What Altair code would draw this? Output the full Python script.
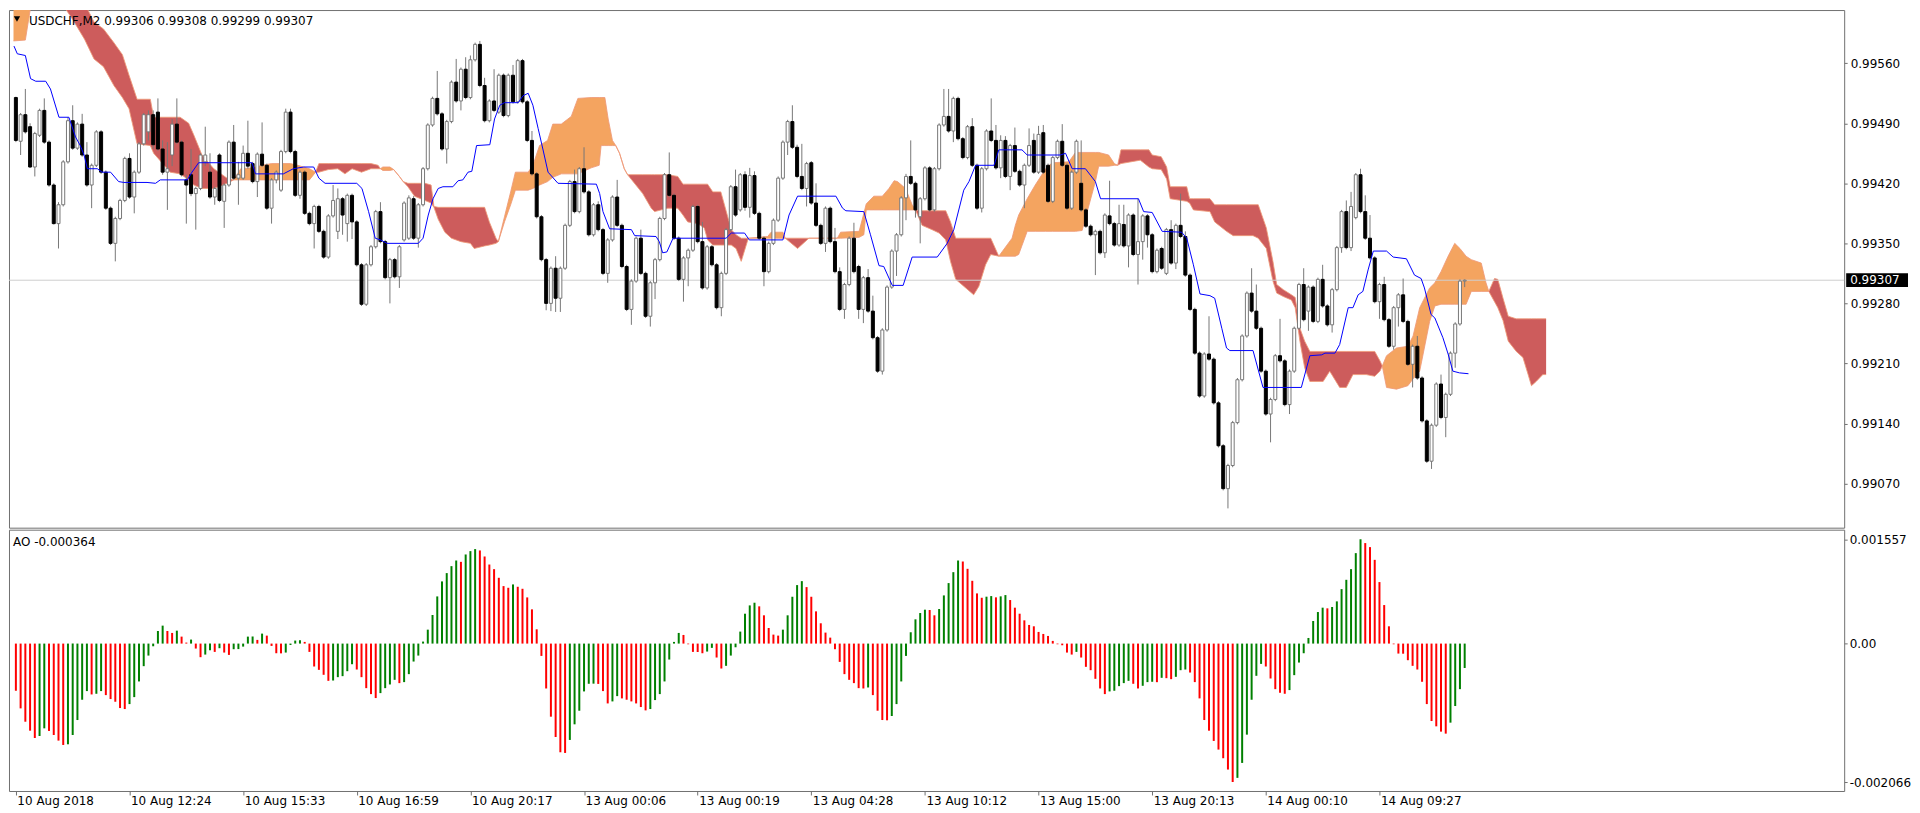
import json
import altair as alt
import pandas as pd

# ---------------------------------------------------------------- settings
BASE = 0.99          # price values below are in 1e-5 above this base
PIP = 1e-5
AO_UNIT = 1e-6       # AO values below are in 1e-6
W, H_PRICE, H_AO = 1840, 519, 262
FONT = "DejaVu Sans"
FRAME = "#707070"
ORANGE = "#F4A460"
RED = "#CD5C5C"

SYMBOL_TEXT = "USDCHF,M2  0.99306 0.99308 0.99299 0.99307"
AO_TEXT = "AO -0.000364"
LAST_PRICE = 0.99307

X_TICKS = [0, 24, 48, 72, 96, 120, 144, 168, 192, 216, 240, 264, 288]
X_LABELS = ["10 Aug 2018", "10 Aug 12:24", "10 Aug 15:33", "10 Aug 16:59", "10 Aug 20:17",
            "13 Aug 00:06", "13 Aug 00:19", "13 Aug 04:28", "13 Aug 10:12", "13 Aug 15:00",
            "13 Aug 20:13", "14 Aug 00:10", "14 Aug 09:27"]
PRICE_TICKS = [0.99070, 0.99140, 0.99210, 0.99280, 0.99350, 0.99420, 0.99490, 0.99560]
AO_TICKS = [0.001557, 0.0, -0.002066]
AO_TICK_LABELS = ["0.001557", "0.00", "-0.002066"]

# ---------------------------------------------------------------- candles (1e-5 above 0.99)
OPEN = [
    520, 469, 500, 486, 439, 476, 505, 468, 418, 373,
    395, 445, 493, 461, 489, 453, 418, 441, 480, 433,
    391, 350, 379, 400, 449, 404, 433, 466, 480, 500,
    503, 460, 433, 453, 489, 468, 424, 430, 408, 414,
    445, 433, 404, 453, 399, 418, 468, 426, 426, 455,
    443, 422, 454, 441, 391, 424, 412, 457, 503, 457,
    406, 433, 385, 373, 393, 364, 334, 382, 364, 402,
    373, 406, 375, 325, 279, 325, 346, 387, 352, 310,
    331, 311, 354, 356, 402, 356, 395, 437, 488, 519,
    501, 460, 492, 538, 516, 553, 520, 564, 582, 534,
    493, 516, 503, 546, 499, 546, 515, 563, 515, 470,
    431, 381, 331, 280, 321, 286, 321, 371, 422, 387,
    437, 410, 360, 395, 366, 315, 354, 404, 371, 323,
    273, 306, 356, 315, 265, 304, 331, 379, 430, 406,
    356, 308, 333, 342, 393, 352, 298, 346, 325, 275,
    315, 366, 416, 389, 430, 392, 429, 385, 356, 317,
    350, 377, 426, 468, 492, 462, 428, 414, 444, 397,
    371, 350, 391, 352, 317, 273, 302, 356, 323, 273,
    310, 271, 240, 201, 249, 299, 341, 360, 403, 428,
    420, 381, 402, 438, 389, 437, 488, 498, 481, 519,
    472, 450, 486, 441, 391, 437, 481, 470, 438, 470,
    428, 464, 434, 418, 441, 470, 433, 479, 441, 399,
    450, 469, 441, 391, 433, 420, 389, 370, 360, 364,
    339, 382, 373, 348, 372, 347, 383, 337, 352, 382,
    360, 317, 344, 315, 366, 327, 371, 358, 313, 273,
    222, 172, 221, 215, 164, 114, 64, 91, 141, 191,
    242, 292, 271, 251, 201, 151, 168, 219, 213, 162,
    201, 251, 302, 271, 299, 259, 308, 277, 255, 296,
    345, 387, 345, 380, 430, 387, 356, 333, 282, 302,
    261, 230, 275, 290, 259, 209, 230, 193, 143, 96,
    138, 186, 147, 174, 222, 256, 306,
]
HIGH = [
    521, 502, 530, 490, 480, 507, 519, 470, 420, 398,
    447, 497, 511, 491, 501, 468, 443, 482, 482, 435,
    393, 381, 402, 451, 455, 435, 468, 502, 505, 505,
    519, 470, 468, 495, 519, 470, 430, 460, 416, 455,
    486, 455, 416, 455, 420, 470, 488, 445, 464, 493,
    445, 456, 491, 443, 426, 435, 459, 507, 507, 459,
    435, 435, 387, 395, 395, 366, 384, 418, 414, 404,
    408, 408, 377, 327, 327, 348, 389, 398, 354, 333,
    333, 348, 399, 406, 405, 397, 439, 490, 521, 551,
    503, 494, 540, 565, 555, 567, 569, 584, 586, 543,
    518, 553, 548, 548, 548, 558, 565, 565, 517, 481,
    433, 383, 333, 323, 335, 323, 373, 424, 436, 439,
    462, 412, 397, 399, 368, 356, 406, 424, 373, 325,
    308, 358, 366, 317, 306, 333, 381, 432, 456, 408,
    358, 335, 344, 395, 395, 375, 348, 348, 327, 317,
    368, 418, 436, 432, 434, 438, 434, 387, 358, 352,
    379, 428, 470, 494, 511, 465, 466, 445, 446, 420,
    373, 393, 393, 368, 322, 304, 358, 374, 325, 312,
    320, 289, 242, 251, 301, 343, 362, 405, 431, 470,
    422, 404, 440, 440, 439, 490, 530, 530, 521, 521,
    474, 488, 496, 443, 439, 483, 519, 488, 476, 475,
    466, 485, 436, 443, 484, 478, 487, 488, 443, 452,
    471, 489, 443, 435, 471, 470, 391, 372, 366, 366,
    385, 423, 375, 395, 395, 385, 385, 402, 384, 384,
    362, 344, 346, 368, 377, 373, 408, 364, 315, 275,
    224, 223, 265, 217, 166, 116, 93, 143, 193, 244,
    294, 321, 302, 253, 203, 170, 221, 262, 215, 203,
    253, 304, 321, 301, 301, 310, 325, 279, 298, 347,
    389, 400, 410, 432, 437, 406, 383, 335, 304, 311,
    263, 277, 292, 309, 261, 232, 242, 195, 145, 140,
    188, 197, 176, 224, 258, 308, 308,
]
LOW = [
    468, 453, 478, 438, 428, 474, 466, 416, 372, 344,
    393, 443, 459, 459, 451, 416, 391, 439, 431, 389,
    348, 329, 377, 398, 402, 385, 431, 464, 470, 460,
    458, 430, 389, 440, 466, 428, 373, 405, 366, 412,
    440, 402, 395, 398, 368, 416, 424, 395, 424, 437,
    420, 404, 439, 389, 373, 420, 410, 455, 455, 404,
    402, 383, 371, 344, 362, 332, 332, 380, 355, 360,
    352, 355, 323, 277, 277, 323, 344, 350, 308, 280,
    309, 298, 352, 354, 354, 345, 393, 435, 486, 499,
    458, 443, 490, 514, 505, 518, 518, 562, 532, 491,
    491, 503, 501, 497, 497, 513, 513, 513, 468, 429,
    379, 329, 272, 271, 270, 270, 319, 369, 385, 385,
    408, 358, 358, 364, 313, 304, 352, 369, 321, 271,
    255, 304, 313, 263, 253, 285, 329, 377, 404, 354,
    306, 282, 300, 340, 350, 296, 296, 323, 273, 265,
    313, 364, 381, 387, 388, 380, 383, 354, 300, 315,
    348, 375, 424, 453, 460, 426, 412, 393, 395, 369,
    348, 340, 350, 315, 271, 262, 300, 315, 262, 257,
    269, 238, 199, 197, 247, 297, 312, 358, 377, 418,
    380, 350, 400, 387, 387, 435, 486, 479, 468, 470,
    448, 448, 439, 389, 386, 435, 468, 436, 426, 426,
    412, 432, 416, 391, 439, 431, 431, 431, 397, 397,
    448, 439, 389, 389, 431, 387, 368, 358, 313, 337,
    333, 371, 346, 346, 345, 322, 335, 302, 331, 345,
    315, 315, 319, 313, 325, 320, 356, 311, 271, 220,
    170, 170, 213, 162, 112, 62, 41, 89, 139, 189,
    240, 269, 249, 199, 149, 118, 166, 211, 160, 151,
    199, 249, 259, 248, 257, 257, 275, 253, 246, 294,
    339, 343, 341, 378, 385, 354, 331, 280, 262, 259,
    228, 226, 253, 257, 207, 182, 191, 141, 94, 87,
    136, 145, 124, 172, 205, 254, 299,
]
CLOSE = [
    470, 500, 480, 439, 478, 505, 468, 418, 373, 395,
    445, 493, 461, 489, 453, 418, 441, 480, 433, 391,
    350, 379, 400, 449, 404, 433, 466, 500, 500, 465,
    460, 433, 437, 489, 468, 430, 418, 408, 414, 453,
    453, 404, 414, 400, 418, 468, 426, 430, 455, 440,
    422, 454, 441, 391, 424, 433, 457, 503, 457, 406,
    433, 385, 373, 393, 364, 334, 382, 400, 402, 383,
    406, 375, 325, 279, 325, 346, 387, 352, 310, 331,
    311, 346, 397, 403, 356, 395, 437, 488, 519, 501,
    460, 492, 538, 516, 553, 520, 564, 582, 534, 493,
    516, 505, 546, 499, 546, 515, 563, 515, 470, 431,
    381, 331, 280, 321, 286, 321, 371, 422, 387, 437,
    410, 360, 395, 366, 315, 354, 404, 371, 323, 273,
    306, 356, 315, 265, 304, 331, 379, 430, 406, 356,
    308, 333, 342, 393, 352, 298, 346, 325, 275, 315,
    366, 416, 383, 430, 392, 429, 385, 356, 317, 350,
    377, 426, 468, 492, 462, 428, 414, 443, 397, 371,
    350, 391, 352, 317, 273, 302, 356, 317, 273, 310,
    271, 240, 201, 249, 299, 341, 360, 403, 428, 420,
    389, 402, 438, 389, 437, 488, 498, 481, 519, 472,
    450, 486, 441, 391, 437, 481, 470, 438, 470, 428,
    464, 434, 418, 441, 464, 433, 477, 433, 399, 450,
    469, 441, 391, 433, 469, 389, 370, 360, 364, 339,
    383, 373, 348, 373, 347, 383, 337, 352, 382, 360,
    317, 342, 321, 366, 327, 371, 358, 313, 273, 222,
    172, 221, 215, 164, 114, 64, 91, 141, 191, 242,
    292, 271, 251, 201, 151, 168, 219, 213, 162, 201,
    251, 302, 261, 299, 259, 308, 277, 255, 296, 345,
    387, 345, 393, 430, 387, 356, 333, 282, 302, 261,
    230, 275, 290, 259, 209, 230, 193, 143, 96, 138,
    186, 147, 174, 222, 256, 306, 307,
]

# ---------------------------------------------------------------- Awesome Oscillator (1e-6)
AO = [
    -704, -967, -1166, -1300, -1409, -1379, -1265, -1304, -1364, -1448,
    -1513, -1503, -1364, -1141, -838, -709, -759, -749, -709, -769,
    -828, -868, -962, -977, -903, -799, -565, -337, -179, -40,
    188, 268, 188, 159, 193, 104, 15, 60, -74, -203,
    -164, -99, -124, -69, -134, -169, -84, -82, -45, 104,
    106, 55, 149, 119, -35, -144, -146, -134, -20, 45,
    50, 25, -124, -342, -392, -466, -556, -551, -501, -486,
    -412, -308, -387, -501, -665, -754, -813, -739, -665, -610,
    -541, -590, -575, -456, -268, -179, 30, 208, 427, 704,
    928, 1052, 1156, 1240, 1220, 1330, 1380, 1410, 1390, 1300,
    1180, 1111, 982, 858, 833, 883, 848, 818, 689, 511,
    213, -184, -670, -1091, -1394, -1622, -1632, -1438, -1205, -1002,
    -714, -600, -598, -602, -709, -893, -863, -784, -818, -838,
    -863, -893, -947, -997, -977, -843, -754, -565, -238, 25,
    159, 129, -10, -124, -126, -144, -119, -64, -208, -372,
    -332, -179, -55, 179, 446, 570, 610, 556, 422, 233,
    134, 119, 208, 422, 699, 873, 932, 843, 699, 481,
    303, 164, 89, -84, -273, -456, -541, -590, -665, -670,
    -655, -769, -1002, -1141, -1145, -1081, -903, -565, -184, 169,
    362, 456, 506, 501, 422, 516, 719, 903, 1066, 1240,
    1225, 1116, 937, 749, 684, 700, 709, 690, 705, 724,
    650, 536, 446, 347, 278, 258, 174, 144, 114, 40,
    -10, -25, -134, -164, -124, -208, -347, -397, -526, -670,
    -754, -714, -704, -635, -590, -556, -600, -670, -630, -575,
    -570, -576, -511, -516, -531, -496, -397, -387, -432, -575,
    -818, -1141, -1300, -1453, -1582, -1711, -1880, -2066, -2004, -1781,
    -1359, -838, -481, -303, -342, -521, -680, -734, -749, -694,
    -471, -283, -144, 84, 337, 471, 536, 526, 546, 630,
    813, 952, 1111, 1350, 1557, 1500, 1440, 1250, 918, 575,
    258, -10, -149, -151, -248, -332, -387, -570, -903, -1156,
    -1235, -1314, -1344, -1180, -932, -680, -364,
]

# ---------------------------------------------------------------- Kijun line vertices
KJ_I = [-0.4, 0.3, 2, 3.1, 4.2, 6.3, 7.3, 9.1, 11.2, 12.6,
        13.6, 14.4, 15.1, 17.2, 18.2, 20, 21.7, 22.8, 27.7, 29.5,
        30.5, 36.2, 37.2, 38.6, 49.9, 50.6, 56.5, 58.6, 60.8, 62.9,
        64, 65.3, 72, 73.1, 74.5, 75.9, 77, 78.4, 85, 86,
        87.1, 88.1, 89.2, 90.2, 92.3, 93.4, 94.4, 95.5, 96.3, 97.3,
        100.1, 101.1, 102.2, 103.2, 106.1, 107.1, 108.2, 109.2, 110.3, 111.3,
        112.4, 114.5, 122.6, 123.3, 124, 125.4, 130, 130.7, 135.2, 135.9,
        136.6, 137.5, 138.8, 150, 151.1, 153.9, 154.9, 162, 163.3, 165.1,
        173.2, 174.6, 175.3, 179.1, 180.5, 182.3, 183.3, 185.1, 187.4, 189.3,
        194.6, 196.7, 198.1, 200.2, 201.3, 202.7, 206.6, 207.6, 212.5, 213.6,
        220.6, 221.7, 223.1, 225.9, 228, 229.1, 237.1, 238.2, 240, 242.1,
        246.2, 247.3, 248.7, 250.1, 252.2, 253.2, 254.7, 255.7, 256.4, 261.3,
        263.4, 271.5, 273.3, 275.8, 276.5, 278.6, 279.6, 281.4, 282.4, 283.5,
        284.5, 285.6, 286.7, 289.5, 290.9, 293.7, 295.4, 296.8, 297.5, 298.9,
        299.7, 301.4, 302.5, 303.5, 304.9, 306.8]
KJ_P = [580, 571, 569, 542, 539, 539, 530, 497, 497, 474,
        464, 453, 437, 437, 433, 433, 422, 421, 421, 420,
        424, 424, 433, 444, 444, 431, 431, 437, 439, 439,
        426, 420, 420, 414, 387, 356, 354, 350, 350, 356,
        383, 402, 414, 416, 416, 423, 424, 433, 434, 464,
        465, 495, 511, 514, 514, 522, 525, 511, 484, 460,
        433, 420, 419, 408, 387, 367, 366, 359, 358, 352,
        339, 340, 356, 356, 362, 362, 354, 354, 383, 405,
        405, 391, 388, 387, 360, 324, 323, 301, 301, 334,
        334, 350, 366, 412, 422, 441, 441, 459, 459, 453,
        453, 455, 437, 437, 422, 402, 402, 387, 386, 364,
        363, 356, 325, 291, 289, 286, 251, 228, 225, 225,
        182, 182, 219, 220, 222, 222, 232, 275, 275, 290,
        294, 319, 341, 341, 334, 332, 313, 309, 298, 267,
        263, 240, 221, 201, 199, 198]

# ---------------------------------------------------------------- Ichimoku cloud (one sub-list per segment)
CLOUD_KIND = ["bull", "bear", "bull", "bear", "bull", "bear", "bull", "bear",
              "bull", "bear", "bull", "bear", "bull", "bear", "bull", "bear"]
CLOUD_I = [
    [-0.5, 2.0, 3.1],
    [7.5, 12, 14.5, 16.5, 18.5, 20.7, 22.5, 23.9, 25.6, 28.4, 29.1, 32.6, 34.7, 36.5, 37.6, 39.3, 41.8, 44.6, 46],
    [46, 47.5, 50, 52, 54, 58, 59.5, 62, 63.3],
    [63.3, 64, 66, 68, 69.5, 71, 73, 75, 76.5, 77],
    [77, 77.5, 79, 79.8, 81, 81.8],
    [81.8, 82.8, 84.2, 86.4, 87.7, 88.3, 89.2, 90.6, 92, 94, 96, 96.8, 99, 100, 101.4, 101.9],
    [101.9, 103.2, 104.5, 105.5, 108.2, 109.2, 110.6, 112.3, 113.4, 115.2, 117.3, 118.7, 121.5, 123.2,
     123.6, 124.4, 125.1, 126, 126.7, 127.5, 128.5, 129.2],
    [129.2, 132.4, 134.2, 134.9, 137.7, 139.8, 140.9, 141.9, 144, 145.4, 146.1, 147.2, 148.9, 151.1,
     152.1, 153.2, 154.7],
    [154.7, 158.8, 159.5, 162, 162.5],
    [162.5, 165.1, 167.5],
    [167.5, 173.5, 174.2, 178.1, 179.1, 179.6, 181.2, 183, 184.4, 185.5, 186.2, 187.9, 189.3, 190],
    [190, 191.4, 193.5, 195, 196.4, 197.4, 198.5, 200.2, 202.3, 203.4, 204.8, 205.9, 207.6],
    [207.6, 210.4, 211.1, 211.8, 213.6, 215.3, 217.5, 218.9, 222.4, 223.8, 225.2, 228, 228.7, 230.8,
     232, 232.7],
    [232.7, 233.4, 237.5, 239.3, 240, 241.9, 243.05, 243.8, 247.3, 247.9, 248.7, 252.2, 253.2, 255.7,
     257.1, 261.3, 262.4, 264.1, 265.5, 266.3, 267.7, 269.4, 270.2, 271.2, 272.2, 273.3, 276.1, 277.5,
     279.6, 281, 282.4, 285.2, 287, 288.1, 288.6],
    [288.6, 289.5, 291.6, 294, 295.1, 296.5, 298.6, 299.7, 301, 302.5, 303.9, 305, 306.3, 307.4,
     309.5, 310.5, 311.1],
    [311.1, 312.3, 313, 314.1, 315.2, 316.9, 318.3, 319.4, 320.1, 321.1, 322.5, 323.2],
]
CLOUD_TOP = [
    [650, 645, 625],
    [650, 645, 630, 608, 600, 584, 570, 546, 518, 518, 497, 497, 497, 490, 476, 453, 437, 426, 424],
    [424, 437, 438, 441, 443, 443, 441, 437, 433],
    [433, 443, 443, 443, 443, 443, 443, 443, 441, 437],
    [437, 439, 439, 436, 428, 422],
    [422, 420, 420, 420, 418, 393, 392, 392, 392, 392, 392, 392, 392, 375, 356, 352],
    [352, 381, 410, 433, 433, 441, 464, 470, 489, 489, 498, 519, 520, 520,
     520, 520, 495, 470, 464, 455, 437, 430],
    [430, 430, 430, 430, 430, 428, 419, 419, 419, 419, 419, 410, 410, 366,
     360, 356, 356],
    [356, 358, 363, 363, 356],
    [356, 356, 356],
    [356, 356, 363, 364, 385, 396, 405, 405, 414, 423, 422, 414, 395, 389],
    [389, 388, 388, 388, 388, 375, 356, 356, 356, 356, 356, 356, 335],
    [335, 356, 371, 383, 402, 418, 437, 444, 445, 456, 456, 456, 456, 453,
     443, 441],
    [441, 459, 459, 459, 453, 451, 439, 416, 416, 402, 402, 402, 395, 395,
     395, 395, 395, 368, 329, 302, 296, 290, 287, 251, 236, 224, 224, 224,
     224, 224, 224, 224, 224, 213, 207],
    [207, 219, 228, 230, 242, 275, 298, 304, 317, 335, 350, 344, 335, 331,
     327, 304, 294],
    [294, 309, 308, 286, 265, 262, 262, 262, 262, 262, 262, 262],
]
CLOUD_BOT = [
    [586, 587, 625],
    [648, 611, 588, 565, 556, 534, 520, 507, 466, 464, 455, 433, 431, 424, 418, 414, 414, 420, 424],
    [424, 424, 424, 424, 424, 424, 424, 424, 433],
    [433, 433, 436, 437, 431, 437, 433, 437, 437, 437],
    [437, 435, 435, 436, 428, 422],
    [422, 416, 405, 400, 397, 392, 378, 363, 356, 352, 350, 344, 347, 348, 350, 352],
    [352, 375, 395, 412, 412, 414, 418, 422, 427, 431, 431, 431, 438, 441,
     464, 464, 464, 464, 464, 455, 437, 430],
    [430, 408, 391, 387, 391, 391, 383, 375, 373, 368, 354, 348, 348, 348,
     344, 329, 356],
    [356, 356, 356, 356, 356],
    [356, 344, 356],
    [356, 356, 356, 357, 360, 389, 389, 389, 389, 389, 389, 389, 389, 389],
    [389, 371, 366, 362, 354, 329, 308, 300, 290, 300, 325, 337, 335],
    [335, 335, 335, 337, 364, 364, 364, 364, 364, 364, 365, 422, 440, 440,
     441, 441],
    [441, 443, 447, 439, 437, 436, 425, 402, 399, 397, 389, 387, 375, 364,
     359, 359, 356, 344, 306, 292, 288, 284, 275, 236, 205, 189, 189, 201,
     182, 182, 197, 197, 195, 201, 207],
    [207, 182, 180, 184, 192, 201, 259, 277, 279, 279, 279, 279, 279, 294,
     294, 294, 294],
    [294, 282, 275, 260, 236, 224, 217, 197, 184, 189, 197, 197],
]

# ---------------------------------------------------------------- tables
n = len(CLOSE)
assert len(OPEN) == len(HIGH) == len(LOW) == n == len(AO)
assert len(KJ_I) == len(KJ_P)

candles = pd.DataFrame({
    "i": list(range(n)),
    "o": [BASE + v * PIP for v in OPEN],
    "h": [BASE + v * PIP for v in HIGH],
    "l": [BASE + v * PIP for v in LOW],
    "c": [BASE + v * PIP for v in CLOSE],
})
bull = [c >= o for o, c in zip(OPEN, CLOSE)]
candles["fill"] = ["#ffffff" if b else "#000000" for b in bull]
candles["stroke"] = ["#777777" if b else "#000000" for b in bull]

ao = pd.DataFrame({"i": list(range(n)), "v": [a * AO_UNIT for a in AO], "zero": 0.0})
ao["col"] = ["#008000" if (k > 0 and AO[k] > AO[k - 1]) else "#FF0000" for k in range(n)]

rows = []
for s, (kind, xs_, ts, bs) in enumerate(zip(CLOUD_KIND, CLOUD_I, CLOUD_TOP, CLOUD_BOT)):
    assert len(xs_) == len(ts) == len(bs), s
    for x, t, b in zip(xs_, ts, bs):
        rows.append({"seg": s, "kind": kind, "i": x, "top": BASE + t * PIP, "bot": BASE + b * PIP})
cloud = pd.DataFrame(rows)

kijun = pd.DataFrame({"i": KJ_I, "p": [BASE + v * PIP for v in KJ_P]})

# ---------------------------------------------------------------- scales / axes
XS = alt.Scale(domain=[-0.4, 385.1], nice=False, zero=False)
YS = alt.Scale(domain=[0.990185, 0.99622], nice=False, zero=False)
AS = alt.Scale(domain=[-0.0022, 0.0017], nice=False, zero=False)

PRICE_AXIS = alt.Axis(orient="right", values=PRICE_TICKS, format=".5f", title=None, grid=False,
                      domain=False, tickSize=3, tickColor=FRAME, labelFont=FONT, labelFontSize=12,
                      labelColor="#000000", labelPadding=3)
ao_expr = " : ".join(
    [f"abs(datum.value - ({v})) < 1e-7 ? '{lab}'" for v, lab in zip(AO_TICKS, AO_TICK_LABELS)]
) + " : ''"
AO_AXIS = alt.Axis(orient="right", values=AO_TICKS, labelExpr=ao_expr, title=None, grid=False,
                   domain=False, tickSize=3, tickColor=FRAME, labelFont=FONT, labelFontSize=12,
                   labelColor="#000000", labelPadding=2)
X_AXIS = alt.Axis(values=X_TICKS, labelExpr=f"{json.dumps(X_LABELS)}[round(datum.value / 24)]",
                  title=None, grid=False, domain=False, tickSize=4, tickColor=FRAME,
                  labelAlign="left", labelBaseline="top", labelPadding=1, labelOffset=1,
                  labelFont=FONT, labelFontSize=12, labelColor="#000000",
                  labelFlush=False, labelOverlap=False)


def px(field):
    return alt.X(field, type="quantitative", scale=XS, axis=None)


def py(field):
    return alt.Y(field, type="quantitative", scale=YS, axis=PRICE_AXIS, stack=None)


# ---------------------------------------------------------------- price pane
cloud_area = alt.Chart(cloud).mark_area(clip=True, opacity=1).encode(
    x=px("i"), y=py("top"), y2="bot:Q",
    color=alt.Color("kind:N", scale=alt.Scale(domain=["bull", "bear"], range=[ORANGE, RED]), legend=None),
    detail="seg:N",
)
edge_top = alt.Chart(cloud).mark_line(clip=True, color="#EE9A78", strokeWidth=1, opacity=0.85).encode(
    x=px("i"), y=py("top"), detail="seg:N")
edge_bot = alt.Chart(cloud).mark_line(clip=True, color="#EE9A78", strokeWidth=1, opacity=0.85).encode(
    x=px("i"), y=py("bot"), detail="seg:N")

last_df = pd.DataFrame({"p": [LAST_PRICE], "top": [LAST_PRICE + 8 * PIP], "bot": [LAST_PRICE - 8 * PIP],
                        "t": [f"{LAST_PRICE:.5f}"]})
price_line = alt.Chart(last_df).mark_rule(color="#cfcfcf", strokeWidth=1).encode(y=py("p"))

wicks = alt.Chart(candles).mark_rule(color="#777777", strokeWidth=1).encode(x=px("i"), y=py("l"), y2="h:Q")
bodies = alt.Chart(candles).mark_bar(size=3, strokeWidth=1).encode(
    x=px("i"), y=py("o"), y2="c:Q",
    fill=alt.Fill("fill:N", scale=None), stroke=alt.Stroke("stroke:N", scale=None),
)
kijun_line = alt.Chart(kijun).mark_line(color="#0000FF", strokeWidth=1).encode(x=px("i"), y=py("p"))

title_df = pd.DataFrame({"t": [SYMBOL_TEXT]})
title_text = alt.Chart(title_df).mark_text(align="left", baseline="middle", font=FONT, fontSize=12,
                                           color="#000000").encode(
    x=alt.value(20), y=alt.value(11), text="t:N")
triangle = alt.Chart(title_df).mark_point(shape="triangle-down", filled=True, size=40, color="#000000",
                                          opacity=1).encode(x=alt.value(8), y=alt.value(9))

tag_rect = alt.Chart(last_df).mark_rect(color="#000000", clip=False).encode(
    x=alt.value(W + 2), x2=alt.value(W + 64), y=py("top"), y2="bot:Q")
tag_text = alt.Chart(last_df).mark_text(align="left", baseline="middle", font=FONT, fontSize=12,
                                        color="#ffffff").encode(
    x=alt.value(W + 6), y=py("p"), text="t:N")

price = alt.layer(cloud_area, edge_top, edge_bot, price_line, wicks, bodies, kijun_line,
                  title_text, triangle, tag_rect, tag_text).properties(width=W, height=H_PRICE)

# ---------------------------------------------------------------- AO pane
ao_bars = alt.Chart(ao).mark_bar(size=2).encode(
    x=alt.X("i:Q", scale=XS, axis=X_AXIS),
    y=alt.Y("v:Q", scale=AS, axis=AO_AXIS),
    y2="zero:Q",
    color=alt.Color("col:N", scale=None),
)
ao_label = alt.Chart(pd.DataFrame({"t": [AO_TEXT]})).mark_text(
    align="left", baseline="middle", font=FONT, fontSize=12, color="#000000").encode(
    x=alt.value(4), y=alt.value(12), text="t:N")
ao_chart = alt.layer(ao_bars, ao_label).properties(width=W, height=H_AO)

chart = alt.vconcat(price, ao_chart, spacing=0).properties(
    padding={"left": 0, "top": 0, "right": 0, "bottom": 0}, background="#ffffff"
).configure_view(stroke=FRAME, strokeWidth=1)

chart.save("out.html", embed_options={"renderer": "svg", "actions": False})
